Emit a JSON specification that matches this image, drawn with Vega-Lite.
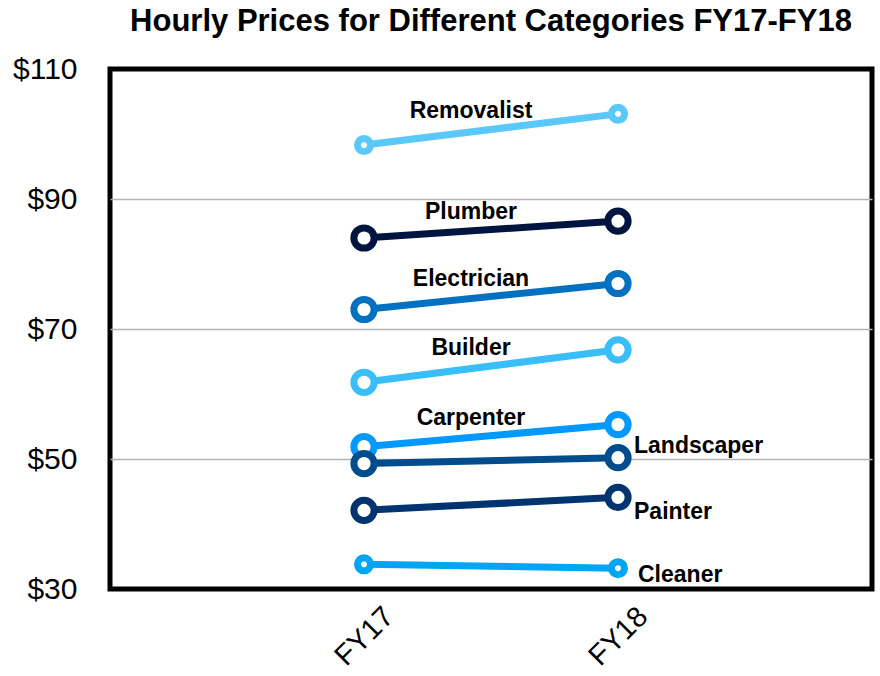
{
  "$schema": "https://vega.github.io/schema/vega-lite/v6.json",
  "width": 762,
  "height": 520,
  "autosize": {"type": "none"},
  "padding": {"left": 110, "top": 69, "right": 8, "bottom": 87},
  "background": "white",
  "title": {
    "text": "Hourly Prices for Different Categories FY17-FY18",
    "font": "Liberation Sans",
    "fontSize": 31,
    "fontWeight": "bold",
    "color": "black",
    "anchor": "middle",
    "offset": 16
  },
  "config": {
    "view": {"stroke": "black", "strokeWidth": 5},
    "font": "Liberation Sans"
  },
  "data": {
    "values": [
      {"category": "Removalist", "year": "FY17", "price": 98.3},
      {"category": "Removalist", "year": "FY18", "price": 103.1},
      {"category": "Plumber", "year": "FY17", "price": 84.0},
      {"category": "Plumber", "year": "FY18", "price": 86.6},
      {"category": "Electrician", "year": "FY17", "price": 73.0},
      {"category": "Electrician", "year": "FY18", "price": 77.0},
      {"category": "Builder", "year": "FY17", "price": 61.8},
      {"category": "Builder", "year": "FY18", "price": 66.8},
      {"category": "Carpenter", "year": "FY17", "price": 51.9},
      {"category": "Carpenter", "year": "FY18", "price": 55.3},
      {"category": "Landscaper", "year": "FY17", "price": 49.3},
      {"category": "Landscaper", "year": "FY18", "price": 50.2},
      {"category": "Painter", "year": "FY17", "price": 42.1},
      {"category": "Painter", "year": "FY18", "price": 44.1},
      {"category": "Cleaner", "year": "FY17", "price": 33.8},
      {"category": "Cleaner", "year": "FY18", "price": 33.2}
    ]
  },
  "encoding": {
    "x": {
      "field": "year",
      "type": "ordinal",
      "scale": {"type": "point", "padding": 1},
      "axis": {
        "title": null,
        "ticks": false,
        "tickSize": 0,
        "domain": false,
        "labelAngle": -45,
        "labelAlign": "center",
        "labelBaseline": "middle",
        "labelPadding": 47,
        "labelFontSize": 29,
        "labelColor": "black",
        "labelFont": "Liberation Sans"
      }
    },
    "y": {
      "field": "price",
      "type": "quantitative",
      "scale": {"domain": [30, 110], "zero": false, "nice": false},
      "axis": {
        "title": null,
        "values": [30, 50, 70, 90, 110],
        "labelExpr": "'$' + datum.value",
        "ticks": false,
        "tickSize": 0,
        "domain": false,
        "labelPadding": 33,
        "labelFontSize": 30,
        "labelColor": "black",
        "labelFont": "Liberation Sans",
        "grid": true,
        "gridColor": {"condition": {"test": "datum.value == 30 || datum.value == 110", "value": "transparent"}, "value": "#b3b3b3"},
        "gridWidth": 1.5
      }
    }
  },
  "layer": [
    {
      "mark": {"type": "line", "strokeWidth": 7},
      "encoding": {
        "color": {
          "field": "category",
          "type": "nominal",
          "legend": null,
          "scale": {
            "domain": ["Removalist", "Plumber", "Electrician", "Builder", "Carpenter", "Landscaper", "Painter", "Cleaner"],
            "range": ["#5AC8FA", "#001440", "#0070C0", "#3ABEF9", "#0099FF", "#004C8C", "#003470", "#00A5F5"]
          }
        },
        "detail": {"field": "category"}
      }
    },
    {
      "mark": {"type": "point", "filled": false, "fill": "white", "fillOpacity": 1, "strokeWidth": 7, "opacity": 1},
      "encoding": {
        "stroke": {"field": "category", "type": "nominal", "legend": null,
          "scale": {
            "domain": ["Removalist", "Plumber", "Electrician", "Builder", "Carpenter", "Landscaper", "Painter", "Cleaner"],
            "range": ["#5AC8FA", "#001440", "#0070C0", "#3ABEF9", "#0099FF", "#004C8C", "#003470", "#00A5F5"]
          }
        },
        "size": {"condition": {"test": "datum.category == 'Removalist' || datum.category == 'Cleaner'", "value": 170}, "value": 410}
      }
    },
    {
      "transform": [
        {"joinaggregate": [{"op": "mean", "field": "price", "as": "mid"}], "groupby": ["category"]},
        {"filter": "datum.year == 'FY17' && indexof(['Removalist','Plumber','Electrician','Builder','Carpenter'], datum.category) >= 0"}
      ],
      "mark": {"type": "text", "fontSize": 23, "fontWeight": "bold", "color": "black", "align": "center", "baseline": "middle", "dx": 107, "dy": -18},
      "encoding": {
        "y": {"field": "mid", "type": "quantitative"},
        "text": {"field": "category"}
      }
    },
    {
      "transform": [{"filter": "datum.year == 'FY18' && datum.category == 'Landscaper'"}],
      "mark": {"type": "text", "fontSize": 23, "fontWeight": "bold", "color": "black", "align": "left", "baseline": "middle", "dx": 16, "dy": -12},
      "encoding": {"text": {"field": "category"}}
    },
    {
      "transform": [{"filter": "datum.year == 'FY18' && datum.category == 'Painter'"}],
      "mark": {"type": "text", "fontSize": 23, "fontWeight": "bold", "color": "black", "align": "left", "baseline": "middle", "dx": 16, "dy": 15},
      "encoding": {"text": {"field": "category"}}
    },
    {
      "transform": [{"filter": "datum.year == 'FY18' && datum.category == 'Cleaner'"}],
      "mark": {"type": "text", "fontSize": 23, "fontWeight": "bold", "color": "black", "align": "left", "baseline": "middle", "dx": 20, "dy": 7},
      "encoding": {"text": {"field": "category"}}
    }
  ]
}
